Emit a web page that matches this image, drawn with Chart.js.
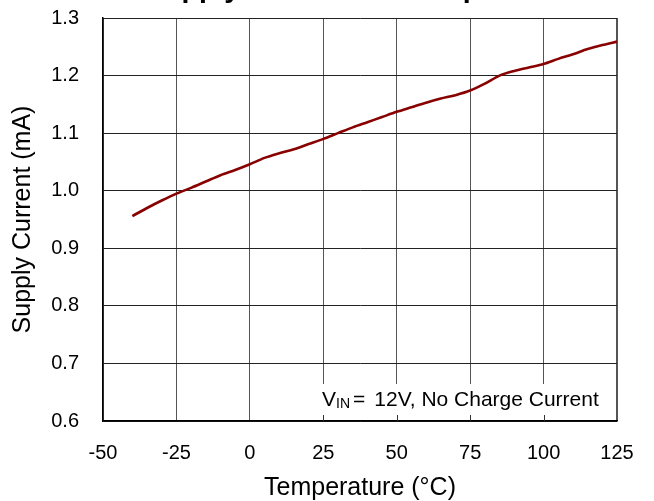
<!DOCTYPE html>
<html>
<head>
<meta charset="utf-8">
<script src="https://cdn.jsdelivr.net/npm/chart.js@4.4.0/dist/chart.umd.min.js"></script>
<style>
  html, body { margin: 0; padding: 0; background: #fff; }
  #wrap { width: 654px; height: 501px; }
</style>
</head>
<body>
<div id="wrap"><canvas id="supplyChart"></canvas></div>
<script>
// supply current vs temperature
const temps = [-40, -35, -30, -25, -20, -15, -10, -5, 0, 5, 10, 15, 20, 25, 30, 35, 40, 45, 50, 55, 60, 65, 70, 75, 80, 85, 90, 95, 100, 105, 110, 115, 120, 125];
const supplyCurrent = [0.956, 0.970, 0.983, 0.995, 1.005, 1.016, 1.027, 1.036, 1.046, 1.057, 1.065, 1.072, 1.081, 1.090, 1.100, 1.110, 1.119, 1.128, 1.137, 1.145, 1.153, 1.160, 1.166, 1.174, 1.186, 1.200, 1.208, 1.214, 1.220, 1.229, 1.237, 1.246, 1.253, 1.259];
const xTicks = [-50, -25, 0, 25, 50, 75, 100, 125];
const yTicks = [0.6, 0.7, 0.8, 0.9, 1.0, 1.1, 1.2, 1.3];

const FONT = 'Arial, "Liberation Sans", Helvetica, sans-serif';

// title sits mostly above the canvas, only descenders show
const cutTitle = {
  id: 'cutTitle',
  afterDraw(chart) {
    const c = chart.ctx, a = chart.chartArea;
    c.save();
    c.font = 'bold 28.5px ' + FONT;
    c.fillStyle = '#000';
    c.textAlign = 'center';
    c.textBaseline = 'alphabetic';
    c.fillText('Supply Current vs. Temperature', (a.left + a.right) / 2 + 1, -3);
    c.restore();
  }
};

// white note box in the bottom right corner, inner ticks on top
const noteBox = {
  id: 'noteBox',
  afterDatasetsDraw(chart) {
    const c = chart.ctx, a = chart.chartArea, xs = chart.scales.x;
    const left = 314, top = 384;
    c.save();
    c.fillStyle = '#fff';
    c.fillRect(left, top, a.right - 1.5 - left, a.bottom - 1 - top);
    c.strokeStyle = '#333';
    c.lineWidth = 1;
    xTicks.forEach(t => {
      const px = Math.round(xs.getPixelForValue(t)) + 0.5;
      if (px > left && px < a.right - 2) {
        c.beginPath();
        c.moveTo(px, a.bottom);
        c.lineTo(px, a.bottom - 6);
        c.stroke();
      }
    });
    c.fillStyle = '#000';
    c.textBaseline = 'alphabetic';
    c.textAlign = 'left';
    let x = 322;
    c.font = '21px ' + FONT;
    c.fillText('V', x, 406);
    x += c.measureText('V').width;
    c.font = '14px ' + FONT;
    c.fillText('IN', x, 408);
    x += c.measureText('IN').width + 3;
    c.font = '21px ' + FONT;
    c.fillText('=', x, 406);
    x += c.measureText('=').width + 9;
    c.fillText('12V, No Charge Current', x, 406);
    c.restore();
  }
};

new Chart(document.getElementById('supplyChart').getContext('2d'), {
  type: 'line',
  data: {
    datasets: [{
      data: temps.map((t, i) => ({ x: t, y: supplyCurrent[i] })),
      borderColor: '#880000',
      borderWidth: 2.6,
      pointRadius: 0,
      tension: 0.3,
      fill: false
    }]
  },
  options: {
    responsive: true, maintainAspectRatio: false, animation: false,
    layout: { padding: { top: 0, right: 37, left: 0, bottom: 0 } },
    plugins: { legend: { display: false }, tooltip: { enabled: false } },
    scales: {
      x: {
        type: 'linear', min: -50, max: 125,
        afterBuildTicks: s => { s.ticks = xTicks.map(v => ({ value: v })); },
        afterFit: s => { s.height = 80; },
        grid: { color: '#555', lineWidth: ctx => ctx.index === xTicks.length - 1 ? 2 : 1, drawTicks: false },
        border: { color: '#000', width: 1.5 },
        ticks: { color: '#000', padding: 20, font: { family: FONT, size: 20 } },
        title: { display: true, text: 'Temperature (°C)', color: '#000', font: { family: FONT, size: 25 }, padding: { top: 4, bottom: -2 } }
      },
      y: {
        min: 0.6, max: 1.3,
        afterBuildTicks: s => { s.ticks = yTicks.map(v => ({ value: v })); },
        afterFit: s => { s.width = 103; s.paddingTop = 18; s.paddingBottom = 0; },
        grid: { color: '#222', lineWidth: 1, drawTicks: false },
        border: { color: '#000', width: 1.5 },
        ticks: { color: '#000', padding: 24, font: { family: FONT, size: 20 }, callback: v => v.toFixed(1) },
        title: { display: true, text: 'Supply Current (mA)', color: '#000', font: { family: FONT, size: 25 }, padding: { top: 8, bottom: 0 } }
      }
    }
  },
  plugins: [noteBox, cutTitle]
});
</script>
</body>
</html>
